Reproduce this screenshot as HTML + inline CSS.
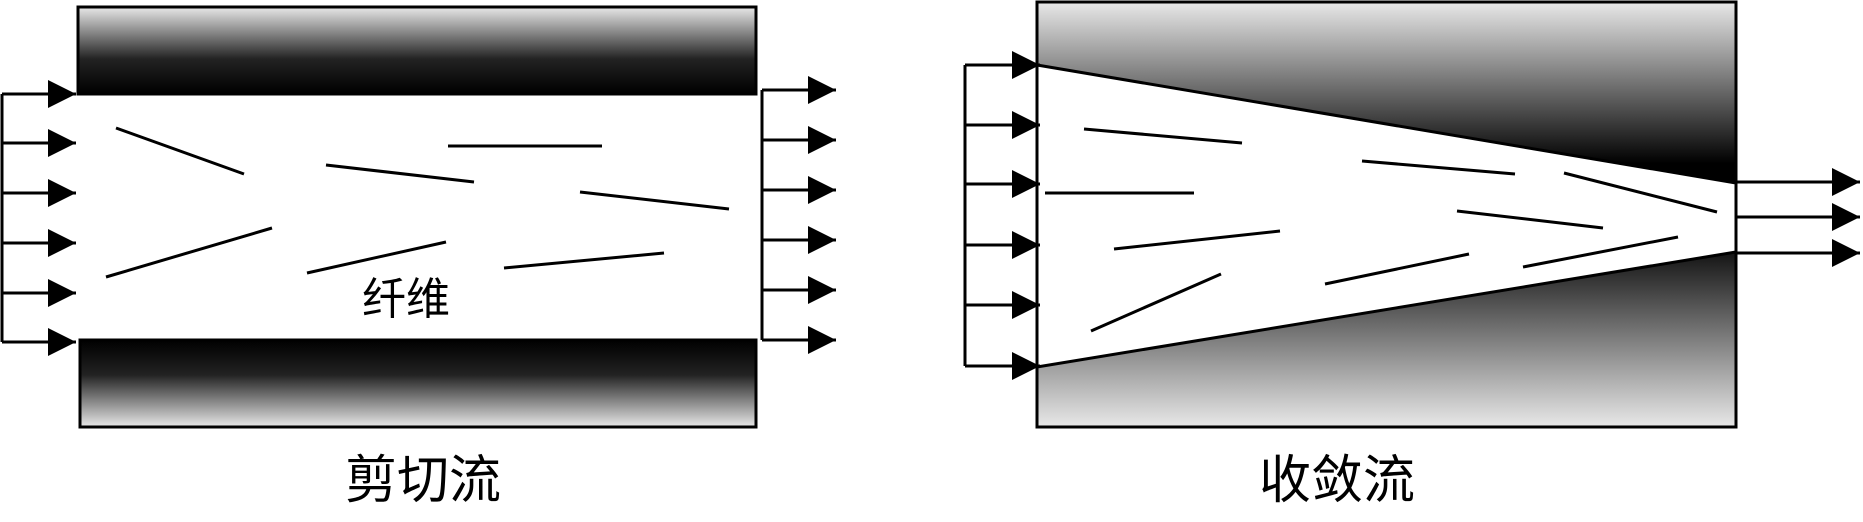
<!DOCTYPE html>
<html><head><meta charset="utf-8"><style>
html,body{margin:0;padding:0;background:#fff;}
svg{display:block}
text{font-family:"Liberation Sans","Noto Sans CJK SC",sans-serif;fill:#000}
</style></head><body>
<svg width="1863" height="522" viewBox="0 0 1863 522" xmlns="http://www.w3.org/2000/svg">
<defs>
<linearGradient id="gt" x1="0" y1="0" x2="0" y2="1"><stop offset="0" stop-color="#e8e8e8"/><stop offset="0.6" stop-color="#222"/><stop offset="1" stop-color="#000"/></linearGradient>
<linearGradient id="gb" x1="0" y1="0" x2="0" y2="1"><stop offset="0" stop-color="#000"/><stop offset="0.4" stop-color="#222"/><stop offset="1" stop-color="#e8e8e8"/></linearGradient>
<linearGradient id="gr" x1="0" y1="0" x2="0" y2="1"><stop offset="0" stop-color="#e8e8e8"/><stop offset="0.38" stop-color="#000"/><stop offset="0.55" stop-color="#000"/><stop offset="1" stop-color="#e8e8e8"/></linearGradient>
<marker id="ah" markerWidth="30" markerHeight="30" refX="0" refY="0" viewBox="-30 -15 30 30" orient="auto" markerUnits="userSpaceOnUse"><path d="M-28,-14 L0,0 L-28,14 Z" fill="#000"/></marker>
</defs>
<g stroke="#000" stroke-width="3">
<!-- left figure -->
<rect x="78" y="7" width="678" height="87" fill="url(#gt)"/>
<rect x="80" y="340" width="676" height="87" fill="url(#gb)"/>
<g fill="none">
<path d="M2,94 V342"/>
<path d="M2,94 H76" marker-end="url(#ah)"/>
<path d="M2,143 H76" marker-end="url(#ah)"/>
<path d="M2,193 H76" marker-end="url(#ah)"/>
<path d="M2,243 H76" marker-end="url(#ah)"/>
<path d="M2,293 H76" marker-end="url(#ah)"/>
<path d="M2,342 H76" marker-end="url(#ah)"/>
<path d="M762,90 V340"/>
<path d="M762,90 H836" marker-end="url(#ah)"/>
<path d="M762,140 H836" marker-end="url(#ah)"/>
<path d="M762,190 H836" marker-end="url(#ah)"/>
<path d="M762,240 H836" marker-end="url(#ah)"/>
<path d="M762,290 H836" marker-end="url(#ah)"/>
<path d="M762,340 H836" marker-end="url(#ah)"/>
</g>
<line x1="116" y1="128" x2="244" y2="174"/>
<line x1="448" y1="146" x2="602" y2="146"/>
<line x1="326" y1="165" x2="474" y2="182"/>
<line x1="580" y1="192" x2="729" y2="209"/>
<line x1="272" y1="228" x2="106" y2="277"/>
<line x1="446" y1="242" x2="307" y2="273"/>
<line x1="664" y1="253" x2="504" y2="268"/>
<!-- right figure -->
<rect x="1037" y="2" width="699" height="425" fill="url(#gr)"/>
<polygon points="1037,65 1736,183 1736,252 1037,367" fill="#fff"/>
<g fill="none">
<path d="M965,65 V366"/>
<path d="M965,65 H1040" marker-end="url(#ah)"/>
<path d="M965,125 H1040" marker-end="url(#ah)"/>
<path d="M965,184 H1040" marker-end="url(#ah)"/>
<path d="M965,245 H1040" marker-end="url(#ah)"/>
<path d="M965,305 H1040" marker-end="url(#ah)"/>
<path d="M965,366 H1040" marker-end="url(#ah)"/>
<path d="M1736,182 H1860" marker-end="url(#ah)"/>
<path d="M1736,217 H1860" marker-end="url(#ah)"/>
<path d="M1736,253 H1860" marker-end="url(#ah)"/>
</g>
<line x1="1084" y1="129" x2="1242" y2="143"/>
<line x1="1362" y1="161" x2="1515" y2="174"/>
<line x1="1564" y1="173" x2="1717" y2="212"/>
<line x1="1045" y1="193" x2="1194" y2="193"/>
<line x1="1457" y1="211" x2="1603" y2="228"/>
<line x1="1114" y1="249" x2="1280" y2="231"/>
<line x1="1678" y1="237" x2="1523" y2="267"/>
<line x1="1469" y1="254" x2="1325" y2="284"/>
<line x1="1221" y1="274" x2="1091" y2="331"/>
</g>
<text x="362" y="314" font-size="44">纤维</text>
<text x="345" y="498" font-size="52">剪切流</text>
<text x="1259" y="498" font-size="52">收敛流</text>
</svg>
</body></html>
